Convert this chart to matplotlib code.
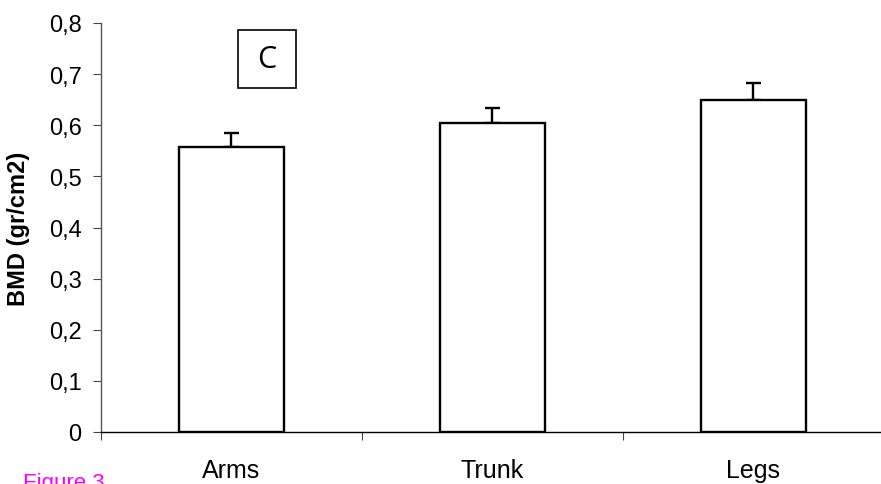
import numpy as np
import matplotlib.pyplot as plt
from matplotlib.patches import Rectangle

plt.rcParams["font.family"] = ["Liberation Sans", "DejaVu Sans"]

# data
regions = ["Arms", "Trunk", "Legs"]
bmd = [0.557, 0.604, 0.649]
bmd_err = [0.027, 0.029, 0.033]
yticks = [0.0, 0.1, 0.2, 0.3, 0.4, 0.5, 0.6, 0.7, 0.8]
ytick_labels = ["0", "0,1", "0,2", "0,3", "0,4", "0,5", "0,6", "0,7", "0,8"]

W, H = 881, 485
fig = plt.figure(figsize=(W / 100, H / 100), dpi=100)
ax = fig.add_axes([101 / W, (H - 433) / H, 783 / W, 409 / H])

x = np.arange(len(regions))
ax.bar(x, bmd, width=0.40, color="white", edgecolor="black", linewidth=1.7, zorder=2)
ax.errorbar(x, bmd, yerr=[np.zeros(len(bmd)), bmd_err], fmt="none",
            ecolor="black", elinewidth=1.7, capsize=5.4, capthick=1.7, zorder=1)

ax.set_xlim(-0.5, 2.5)
ax.set_ylim(0, 0.8)
ax.set_yticks(yticks)
ax.set_yticklabels(ytick_labels, fontsize=17)
ax.set_xticks(x)
ax.set_xticklabels(regions, fontsize=18)
ax.set_xticks([-0.5, 0.5, 1.5, 2.5], minor=True)
ax.tick_params(axis="x", which="major", length=0, pad=19)
ax.tick_params(axis="x", which="minor", length=6, width=0.8, direction="out", color="#444444")
ax.tick_params(axis="y", length=6, width=0.8, direction="out", pad=8, color="#444444")

for s in ["top", "right"]:
    ax.spines[s].set_visible(False)
ax.spines["left"].set_color("#555555")
ax.spines["left"].set_linewidth(1.0)
ax.spines["bottom"].set_linewidth(1.0)

ax.set_ylabel("BMD (gr/cm2)", fontsize=17, fontweight="bold")
ax.yaxis.set_label_coords(-0.091, 0.5)

# panel label box
fig.add_artist(Rectangle((238 / W, (H - 89) / H), 58 / W, 58 / H,
                         transform=fig.transFigure, fill=False,
                         edgecolor="black", linewidth=1.2))
fig.text(267 / W, (H - 60) / H, "C", fontsize=22, family="Open Sans",
         ha="center", va="center")

fig.text(23 / W, -4 / H, "Figure 3", color="#ff00ff", fontsize=16,
         ha="left", va="baseline")

fig.savefig("out.png", dpi=100)
